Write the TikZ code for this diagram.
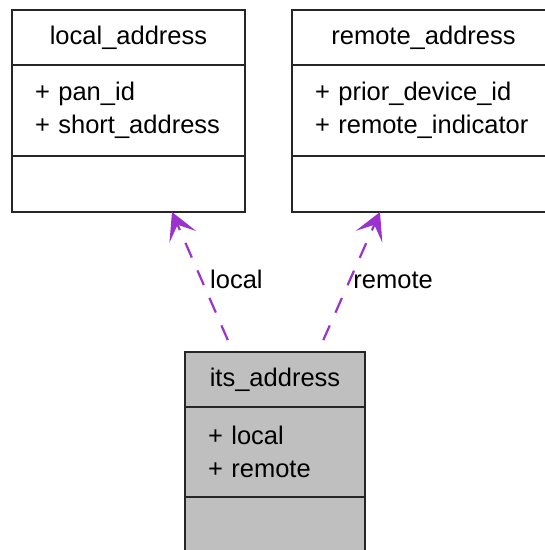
\documentclass[tikz,border=0pt]{standalone}
\usepackage{fontspec}
\setmainfont{Liberation Sans}
\usepackage{tikz}
\usetikzlibrary{positioning,arrows.meta}
\definecolor{depc}{HTML}{9A32CD}
\definecolor{grayc}{HTML}{BFBFBF}
\tikzstyle{t1} = [rectangle, draw=black!85, line width=1.6pt, outer sep=0pt, inner sep=0pt, minimum height=55pt, font=\fontsize{25.5}{33}\selectfont]
\tikzstyle{t2} = [t1, minimum height=91pt, inner xsep=23pt, align=left]
\tikzstyle{t3} = [t1, minimum height=56pt]
\tikzstyle{dep} = [depc, line width=2.2pt, dash pattern=on 16pt off 14pt, dash phase=17pt, -{Stealth[length=27pt,width=29pt,inset=13pt]}]

\begin{document}
\begin{tikzpicture}
\useasboundingbox (0,0) rectangle (545pt,-550pt);
\clip (0,0) rectangle (545pt,-550pt);
% local_address
\node(localT)[t1, minimum width=233pt] at (128.5pt,-37.5pt) {local\_address};
\node(localA)[t2, text width=187pt, below=0pt of localT] {+ pan\_id\\+ short\_address};
\node(localO)[t3, minimum width=233pt, below=0pt of localA] {};
% remote_address
\node(remoteT)[t1, minimum width=263pt] at (423.5pt,-37.5pt) {remote\_address};
\node(remoteA)[t2, text width=217pt, below=0pt of remoteT] {+ prior\_device\_id\\+ remote\_indicator};
\node(remoteO)[t3, minimum width=263pt, below=0pt of remoteA] {};
% its_address
\node(itsT)[t1, fill=grayc, minimum width=180pt] at (275pt,-379.5pt) {its\_address};
\node(itsA)[t2, fill=grayc, text width=134pt, minimum height=90pt, below=0pt of itsT] {+ local\\+ remote};
\node(itsO)[t3, fill=grayc, minimum width=180pt, below=0pt of itsA] {};
% usage edges
\draw[dep] ([xshift=-42pt]itsT.north) -- ([xshift=43.5pt]localO.south)
    node[pos=0.457, anchor=base west, inner sep=0pt, xshift=4pt, black, font=\fontsize{25.5}{33}\selectfont] (lblL) {local};
\draw[dep] ([xshift=43pt]itsT.north) -- ([xshift=-43.5pt]remoteO.south)
    node[pos=0.457, anchor=base west, inner sep=0pt, xshift=6pt, black, font=\fontsize{25.5}{33}\selectfont] (lblR) {remote};
\end{tikzpicture}
\end{document}
